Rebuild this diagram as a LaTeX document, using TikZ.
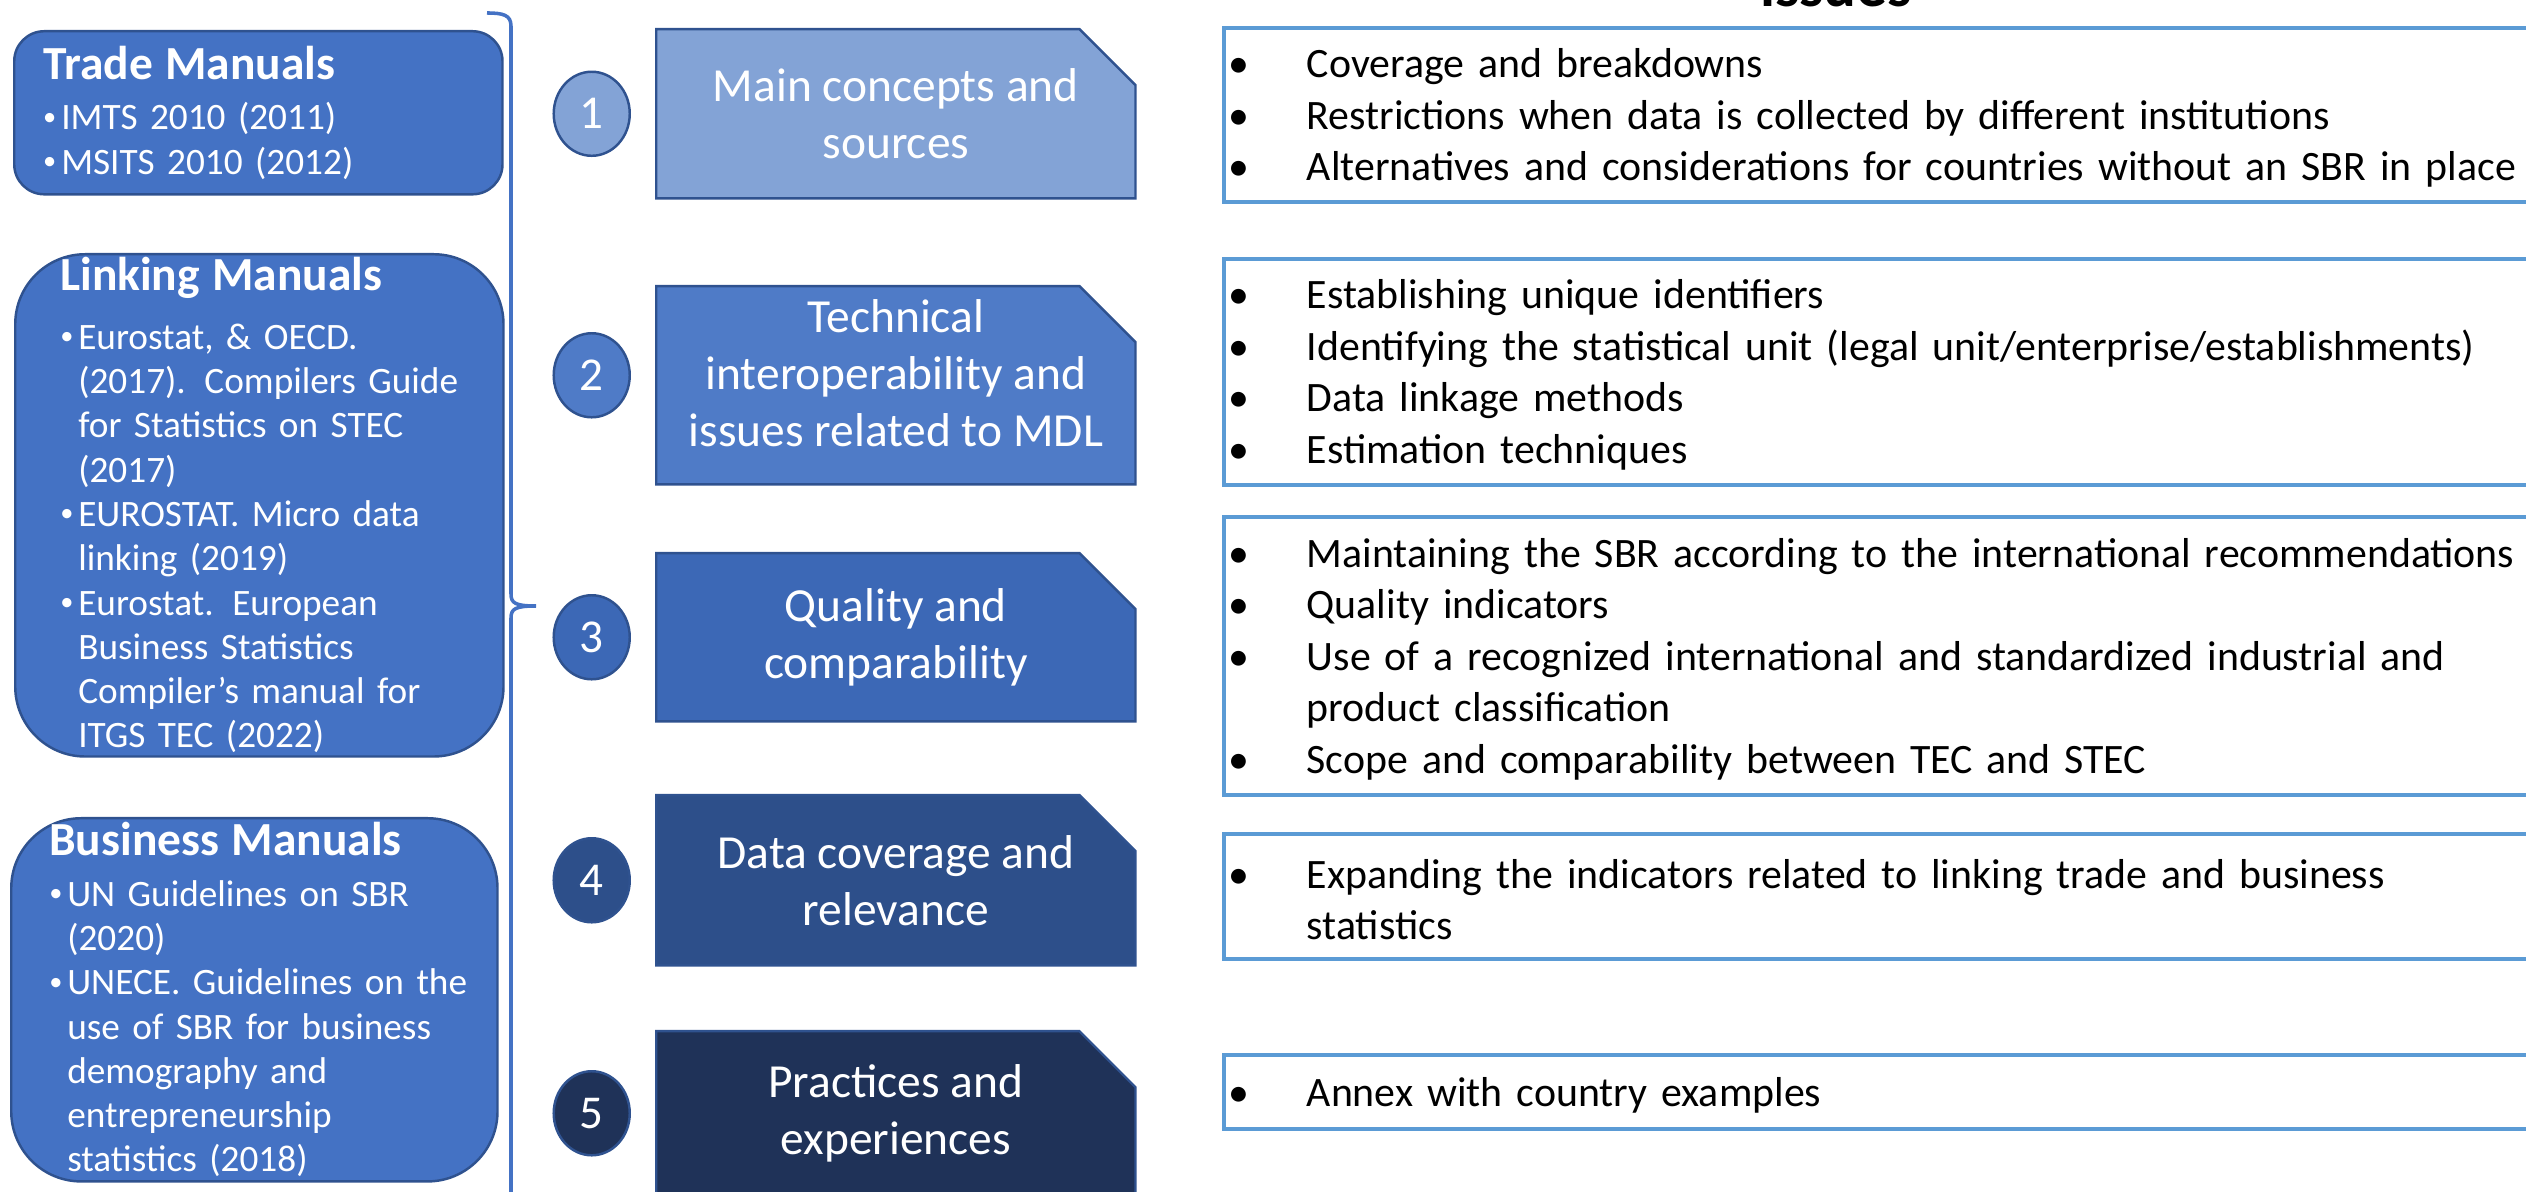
\documentclass[tikz,border=0pt]{standalone}
\usepackage{fontspec}
\setmainfont{Carlito}
\usetikzlibrary{positioning, shapes.geometric, shapes.misc}

\definecolor{manblue}{HTML}{4472C4}
\definecolor{edgeblue}{HTML}{2F528F}
\definecolor{stepA}{HTML}{83A3D6}
\definecolor{stepB}{HTML}{4F7BC7}
\definecolor{stepC}{HTML}{3C68B6}
\definecolor{stepD}{HTML}{2D4F8A}
\definecolor{stepE}{HTML}{1F3258}
\definecolor{listedge}{HTML}{5B9BD5}

% one line each: bullet line, or its continuation
\newcommand{\lbul}[1]{\par\noindent\rlap{\makebox[0.18cm][l]{\raisebox{0.25ex}{\fontsize{7.5}{8}\selectfont\textbullet}}#1}}
\newcommand{\lmore}[1]{\par\noindent\rlap{\hspace*{0.18cm}#1}}
\newcommand{\rbul}[1]{\par\noindent\rlap{\makebox[0.78cm][l]{\textbullet}#1}}
\newcommand{\rmore}[1]{\par\noindent\rlap{\hspace*{0.78cm}#1}}
\newcommand{\mantitle}[1]{{\noindent\fontsize{13.5}{12.8}\selectfont\bfseries #1\par}\vspace{0.06cm}}

\begin{document}
\begin{tikzpicture}
    [
        x=0.01cm, y=-0.01cm,
        manbox/.style={draw=edgeblue, fill=manblue, line width=0.7pt, text=white, anchor=north west, align=left, inner ysep=0pt, font=\fontsize{10.6}{12.6}\selectfont},
        num/.style={ellipse, draw=edgeblue, line width=0.7pt, minimum width=0.76cm, minimum height=0.84cm, inner sep=0pt, text=white, font=\fontsize{13.4}{16}\selectfont},
        stepbox/.style={chamfered rectangle, chamfered rectangle corners=north east, chamfered rectangle xsep=0.28cm, chamfered rectangle ysep=0.28cm, draw=edgeblue, line width=0.7pt, text=white, align=center, anchor=north west, minimum width=4.79cm, inner sep=0pt, font=\fontsize{13.5}{16.2}\selectfont},
        listbox/.style={draw=listedge, line width=1pt, fill=white, anchor=north west, text width=13.2cm, inner xsep=0.05cm, inner ysep=0pt, align=left, font=\fontsize{11.9}{14.65}\selectfont, execute at begin node={\vspace*{-0.16cm}}}
    ]
    \tikzstyle{brace} = [draw=manblue, line width=1pt]

    \clip (0,0) rectangle (2526,1192);

    \node[font=\fontsize{17.4}{20}\selectfont\bfseries, anchor=base] (issues) at (1836,7) {issues};

    % manuals
    \node[manbox, text width=4.30cm, inner xsep=0.29cm, minimum height=1.63cm, rounded corners=0.3cm] (trade) at (13,30) {
        \mantitle{Trade Manuals}
        \lbul{IMTS 2010 (2011)}
        \lbul{MSITS 2010 (2012)}};
    \node[manbox, text width=3.98cm, inner xsep=0.45cm, minimum height=5.02cm, rounded corners=0.7cm, execute at begin node={\vspace*{0.08cm}}] (linking) at (14,253) {
        \mantitle{Linking Manuals}
        \lbul{Eurostat, \& OECD.}
        \lmore{(2017). Compilers Guide}
        \lmore{for Statistics on STEC}
        \lmore{(2017)}
        \lbul{EUROSTAT. Micro data}
        \lmore{linking (2019)}
        \lbul{Eurostat. European}
        \lmore{Business Statistics}
        \lmore{Compiler’s manual for}
        \lmore{ITGS TEC (2022)}};
    \node[manbox, text width=4.10cm, inner xsep=0.38cm, minimum height=3.63cm, rounded corners=0.7cm] (business) at (10,817) {
        \mantitle{Business Manuals}
        \lbul{UN Guidelines on SBR}
        \lmore{(2020)}
        \lbul{UNECE. Guidelines on the}
        \lmore{use of SBR for business}
        \lmore{demography and}
        \lmore{entrepreneurship}
        \lmore{statistics (2018)}};

    \draw[brace] (487,13) .. controls (503,13) and (511,15) .. (511,26) -- (511,594)
        .. controls (511,603) and (515,606) .. (536,606)
        .. controls (515,606) and (511,609) .. (511,618) -- (511,1200);

    % steps
    \node[stepbox, fill=stepA, minimum height=1.69cm] (main) at (655,28) {Main concepts and\\sources};
    \node[stepbox, fill=stepB, minimum height=1.95cm, text height=1.32cm, text depth=0.1cm] (tech) at (655,285) {Technical\\interoperability and\\issues related to MDL};
    \node[stepbox, fill=stepC, minimum height=1.68cm] (qual) at (655,552) {Quality and\\comparability};
    \node[stepbox, fill=stepD, minimum height=1.70cm] (cover) at (655,794) {Data coverage and\\relevance};
    \node[stepbox, fill=stepE, minimum height=1.64cm] (pract) at (655,1030) {Practices and\\experiences};

    \node[num, fill=stepA, left=0.24cm of main] (n1) {1};
    \node[num, fill=stepB, left=0.24cm of tech, yshift=0.1cm] (n2) {2};
    \node[num, fill=stepC, left=0.24cm of qual] (n3) {3};
    \node[num, fill=stepD, left=0.24cm of cover] (n4) {4};
    \node[num, fill=stepE, left=0.24cm of pract] (n5) {5};

    % issues
    \node[listbox, minimum height=1.74cm] (issmain) at (1222,26) {
        \rbul{Coverage and breakdowns}
        \rbul{Restrictions when data is collected by different institutions}
        \rbul{Alternatives and considerations for countries without an SBR in place}};
    \node[listbox, minimum height=2.26cm] (isstech) at (1222,257) {
        \rbul{Establishing unique identifiers}
        \rbul{Identifying the statistical unit (legal unit/enterprise/establishments)}
        \rbul{Data linkage methods}
        \rbul{Estimation techniques}};
    \node[listbox, minimum height=2.78cm] (issqual) at (1222,515) {
        \rbul{Maintaining the SBR according to the international recommendations}
        \rbul{Quality indicators}
        \rbul{Use of a recognized international and standardized industrial and}
        \rmore{product classification}
        \rbul{Scope and comparability between TEC and STEC}};
    \node[listbox, minimum height=1.25cm] (isscover) at (1222,832) {
        \rbul{Expanding the indicators related to linking trade and business}
        \rmore{statistics}};
    \node[listbox, minimum height=0.74cm] (isspract) at (1222,1053) {
        \rbul{Annex with country examples}};
\end{tikzpicture}
\end{document}
